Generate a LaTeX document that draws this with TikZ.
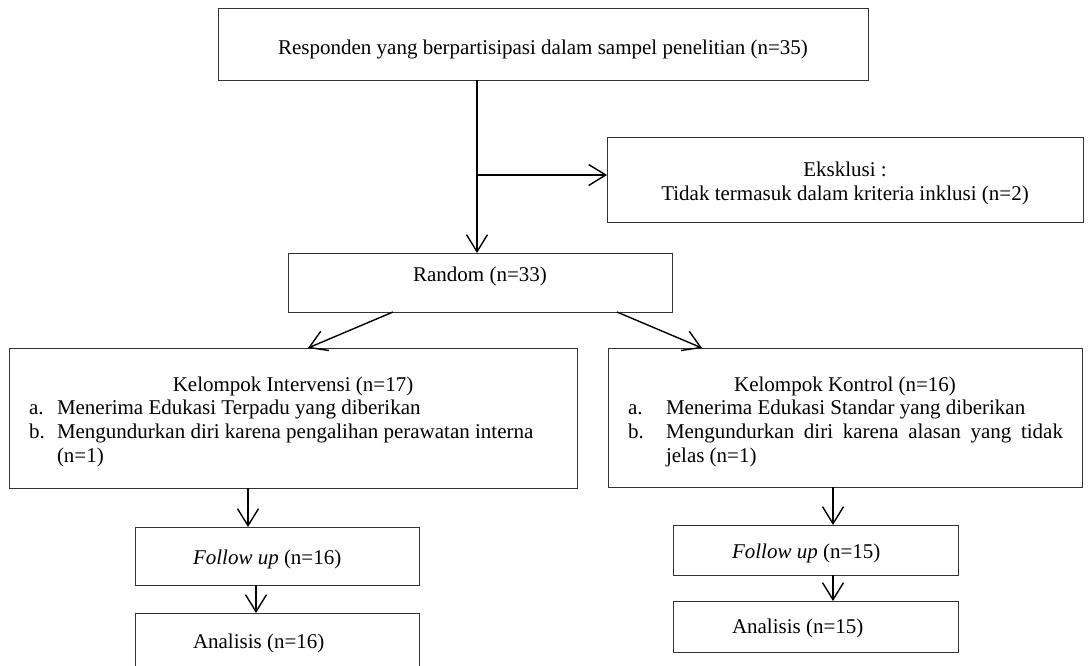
\documentclass[tikz,border=0pt]{standalone}
\usepackage{fontspec}
\setmainfont{Liberation Serif}
\usetikzlibrary{arrows.meta}
\begin{document}
\begin{tikzpicture}[x=1pt,y=-1pt,
  box/.style={draw=black!80, line width=0.9pt, inner sep=0pt, outer sep=0pt, anchor=north west},
  txt/.style={inner sep=0pt, outer sep=0pt, font=\fontsize{21}{24}\selectfont},
  arr/.style={line width=1.4pt, -{Straight Barb[length=17pt,width=21pt,line width=1.4pt]}}]
\useasboundingbox (0,0) rectangle (1090,665);
\clip (0,0) rectangle (1090,665);
\fill[white] (0,0) rectangle (1090,665);

% boxes
\node[box, minimum width=650pt, minimum height=72pt]  (top) at (218,8) {};
\node[box, minimum width=476pt, minimum height=85pt]  (eks) at (607,137) {};
\node[box, minimum width=384pt, minimum height=59pt]  (rnd) at (288,253) {};
\node[box, minimum width=568pt, minimum height=140pt] (int) at (9,348) {};
\node[box, minimum width=474pt, minimum height=139pt] (kon) at (608,348) {};
\node[box, minimum width=284pt, minimum height=58pt]  (fu1) at (135,527) {};
\node[box, minimum width=284pt, minimum height=58pt]  (an1) at (135,613) {};
\node[box, minimum width=285pt, minimum height=50pt]  (fu2) at (673,525) {};
\node[box, minimum width=285pt, minimum height=51pt]  (an2) at (673,601) {};

% texts
\node[txt, anchor=base] (toptxt) at (543,54) {Responden yang berpartisipasi dalam sampel penelitian (n=35)};
\node[txt, anchor=base] (eks1) at (845,176) {Eksklusi :};
\node[txt, anchor=base] (eks2) at (845,200) {Tidak termasuk dalam kriteria inklusi (n=2)};
\node[txt, anchor=base] (rndtxt) at (480,281) {Random (n=33)};

\node[txt, anchor=base] (int1) at (293,391) {Kelompok Intervensi (n=17)};
\node[txt, anchor=base west] (inta) at (29,414) {a.};
\node[txt, anchor=base west] (intat) at (57,414) {Menerima Edukasi Terpadu yang diberikan};
\node[txt, anchor=base west] (intb) at (29,438) {b.};
\node[txt, anchor=base west] (intbt) at (57,438) {Mengundurkan diri karena pengalihan perawatan interna};
\node[txt, anchor=base west] (intc) at (57,462) {(n=1)};

\node[txt, anchor=base] (kon1) at (845,391) {Kelompok Kontrol (n=16)};
\node[txt, anchor=base west] (kona) at (628,414) {a.};
\node[txt, anchor=base west] (konat) at (666,414) {Menerima Edukasi Standar yang diberikan};
\node[txt, anchor=base west] (konb) at (628,438) {b.};
\node[txt, anchor=base west] (konbt) at (666,438) {\makebox[397pt][s]{Mengundurkan diri karena alasan yang tidak}};
\node[txt, anchor=base west] (konc) at (666,462) {jelas (n=1)};

\node[txt, anchor=base west] (fu1t) at (193,564) {\textit{Follow up} (n=16)};
\node[txt, anchor=base west] (an1t) at (193,648) {Analisis (n=16)};
\node[txt, anchor=base west] (fu2t) at (732,558) {\textit{Follow up} (n=15)};
\node[txt, anchor=base west] (an2t) at (732,633) {Analisis (n=15)};

% connectors
\draw[arr] ([xshift=-66pt]top.south) -- ([xshift=-3pt]rnd.north);
\coordinate (split) at (477,175);
\draw[arr] (split) -- (split -| eks.west);
\draw[arr] ([xshift=-87pt]rnd.south) -- ([xshift=15pt]int.north);
\draw[arr] ([xshift=137pt]rnd.south) -- ([xshift=-143pt]kon.north);
\draw[arr] ([xshift=-45pt]int.south) -- ([xshift=-29pt]fu1.north);
\draw[arr] ([xshift=-21pt]fu1.south) -- ([xshift=-21pt]an1.north);
\draw[arr] ([xshift=-12pt]kon.south) -- ([xshift=17.5pt]fu2.north);
\draw[arr] ([xshift=17.5pt]fu2.south) -- ([xshift=17.5pt]an2.north);
\end{tikzpicture}
\end{document}
